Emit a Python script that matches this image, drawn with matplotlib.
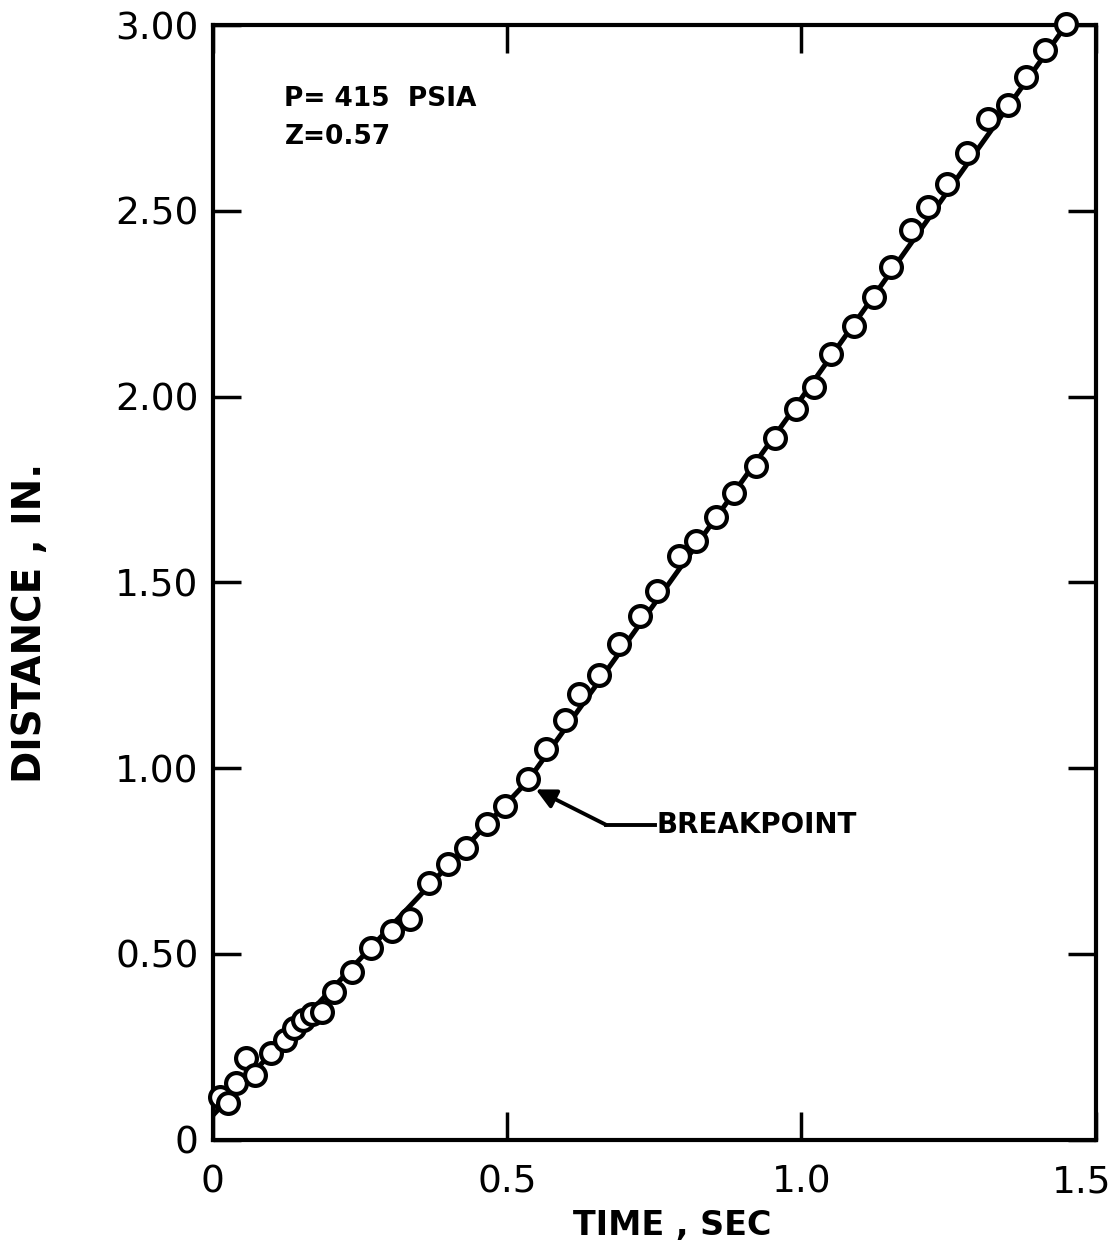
import matplotlib
matplotlib.use("Agg")
import matplotlib.pyplot as plt
import matplotlib.transforms as mtransforms

# measured points (time in sec, distance in inches)
time_s = [0.012, 0.026, 0.039, 0.056, 0.072, 0.099, 0.123, 0.138, 0.153, 0.169,
          0.186, 0.206, 0.237, 0.269, 0.305, 0.336, 0.368, 0.400, 0.431, 0.467,
          0.497, 0.535, 0.566, 0.598, 0.622, 0.656, 0.690, 0.726, 0.755, 0.792,
          0.821, 0.855, 0.886, 0.923, 0.956, 0.991, 1.022, 1.051, 1.089, 1.123,
          1.153, 1.186, 1.216, 1.247, 1.281, 1.317, 1.351, 1.382, 1.414, 1.450]
dist_in = [0.116, 0.100, 0.154, 0.221, 0.175, 0.234, 0.269, 0.302, 0.323, 0.339,
           0.345, 0.399, 0.452, 0.517, 0.563, 0.593, 0.692, 0.741, 0.786, 0.851,
           0.897, 0.970, 1.053, 1.131, 1.201, 1.252, 1.333, 1.409, 1.476, 1.570,
           1.611, 1.675, 1.740, 1.813, 1.888, 1.966, 2.025, 2.114, 2.190, 2.268,
           2.348, 2.448, 2.510, 2.572, 2.656, 2.747, 2.785, 2.860, 2.933, 3.003]

# faired line
fit_t = [0.0, 0.535, 1.0, 1.25, 1.45]
fit_d = [0.065, 0.965, 1.995, 2.555, 3.0]

xticks = [0, 0.5, 1.0, 1.5]
xlabels = ["0", "0.5", "1.0", "1.5"]
yticks = [0, 0.5, 1.0, 1.5, 2.0, 2.5, 3.0]
ylabels = ["0", "0.50", "1.00", "1.50", "2.00", "2.50", "3.00"]

plt.rcParams['font.family'] = ['DejaVu Sans']

fig = plt.figure(figsize=(11.19, 12.58), dpi=100)
ax = fig.add_axes([0.190, 0.094, 0.789, 0.886])

ax.plot(fit_t, fit_d, color='black', linewidth=3.6, zorder=2)
ax.plot(time_s, dist_in, linestyle='none', marker='o', markersize=15,
        markerfacecolor='white', markeredgecolor='black', markeredgewidth=3,
        zorder=3, clip_on=False)

ax.set_xlim(0, 1.5)
ax.set_ylim(0, 3.0)
ax.set_xticks(xticks)
ax.set_xticklabels(xlabels)
ax.set_yticks(yticks)
ax.set_yticklabels(ylabels)
ax.tick_params(axis='both', direction='in', length=20, width=2.5,
               top=True, right=True, labelsize=27)
ax.tick_params(axis='x', pad=18)
ax.tick_params(axis='y', pad=10)
for s in ax.spines.values():
    s.set_linewidth(3)

# keep the last x label inside the figure
last = ax.get_xticklabels()[-1]
last.set_transform(last.get_transform() +
                   mtransforms.ScaledTranslation(-0.14, 0, fig.dpi_scale_trans))

ax.text(0.122, 2.80, "P= 415  PSIA", fontsize=19, fontweight='bold',
        va='center', ha='left')
ax.text(0.122, 2.70, "Z=0.57", fontsize=19, fontweight='bold',
        va='center', ha='left')

ax.annotate("", xy=(0.549, 0.943), xytext=(0.668, 0.848),
            arrowprops=dict(arrowstyle='-|>', color='black', lw=2.8,
                            mutation_scale=30, shrinkA=0, shrinkB=0))
ax.plot([0.668, 0.752], [0.848, 0.848], color='black', linewidth=2.8)
ax.text(0.755, 0.846, "BREAKPOINT", fontsize=20, fontweight='bold',
        va='center', ha='left')

fig.text(0.601, 0.026, "TIME , SEC", fontsize=24, fontweight='bold',
         ha='center', va='center')
fig.text(0.027, 0.505, "DISTANCE , IN.", fontsize=28, fontweight='bold',
         ha='center', va='center', rotation=90)

fig.savefig("out.png", dpi=100)
